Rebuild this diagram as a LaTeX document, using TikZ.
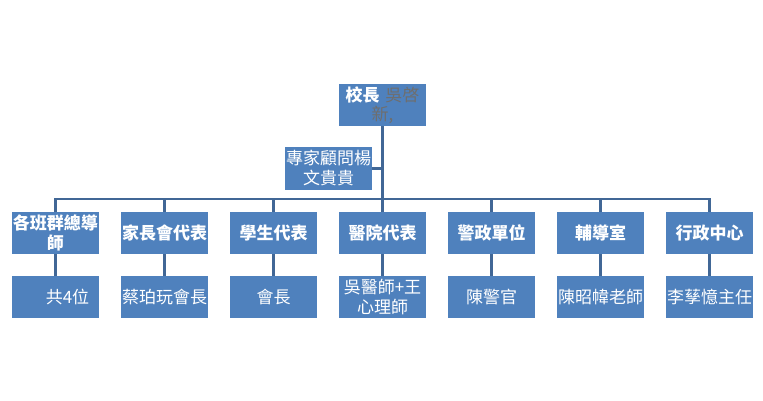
\documentclass[tikz,border=0pt]{standalone}
\usepackage{fontspec}
\setmainfont{Noto Sans CJK TC}
\usetikzlibrary{positioning}

\definecolor{boxblue}{RGB}{79,129,189}
\definecolor{linkblue}{RGB}{65,103,150}
\definecolor{namegray}{RGB}{110,110,110}

\tikzset{
  orgbox/.style={fill=boxblue, text=white, align=center, text width=86pt,
    minimum width=87pt, minimum height=42pt, inner sep=0.5pt,
    font=\fontsize{17}{20}\selectfont},
  headbox/.style={orgbox, font=\bfseries\fontsize{17}{20}\selectfont},
  link/.style={draw=linkblue, line width=2.5pt}
}

\begin{document}
\begin{tikzpicture}[x=1pt,y=-1pt]
  \useasboundingbox (0,0) rectangle (763,401);

  %Define nodes
  \node[orgbox, font=\fontsize{17}{19}\selectfont] (principal) at (382.5,105)
    {\textbf{校長} \textcolor{namegray}{吳啓}\\\textcolor{namegray}{新,}};
  \node[orgbox] (advisor) at (328.5,168.5) {專家顧問楊\\文貴貴};

  \foreach \unit/\member [count=\i] in {
      各班群總導\\師/\hspace*{24pt}共4位,
      家長會代表/蔡珀玩會長,
      學生代表/會長,
      醫院代表/吳醫師+王\\心理師,
      警政單位/陳警官,
      輔導室/陳昭幃老師,
      行政中心/李孶憶主任}
  {
    \node[headbox] (unit_\i) at ({55.5+109*(\i-1)},233) {\unit};
    \node[orgbox]  (member_\i) at ({55.5+109*(\i-1)},297) {\member};
  }

  % Connect the nodes
  \foreach \i in {1,...,7}{
    \draw[link] (unit_\i.north) -- ++(0,-13) -| (principal.south);
    \draw[link] (unit_\i) -- (member_\i);
  }
  \draw[link] (advisor.east) -- (advisor.east -| principal.south);
\end{tikzpicture}
\end{document}
